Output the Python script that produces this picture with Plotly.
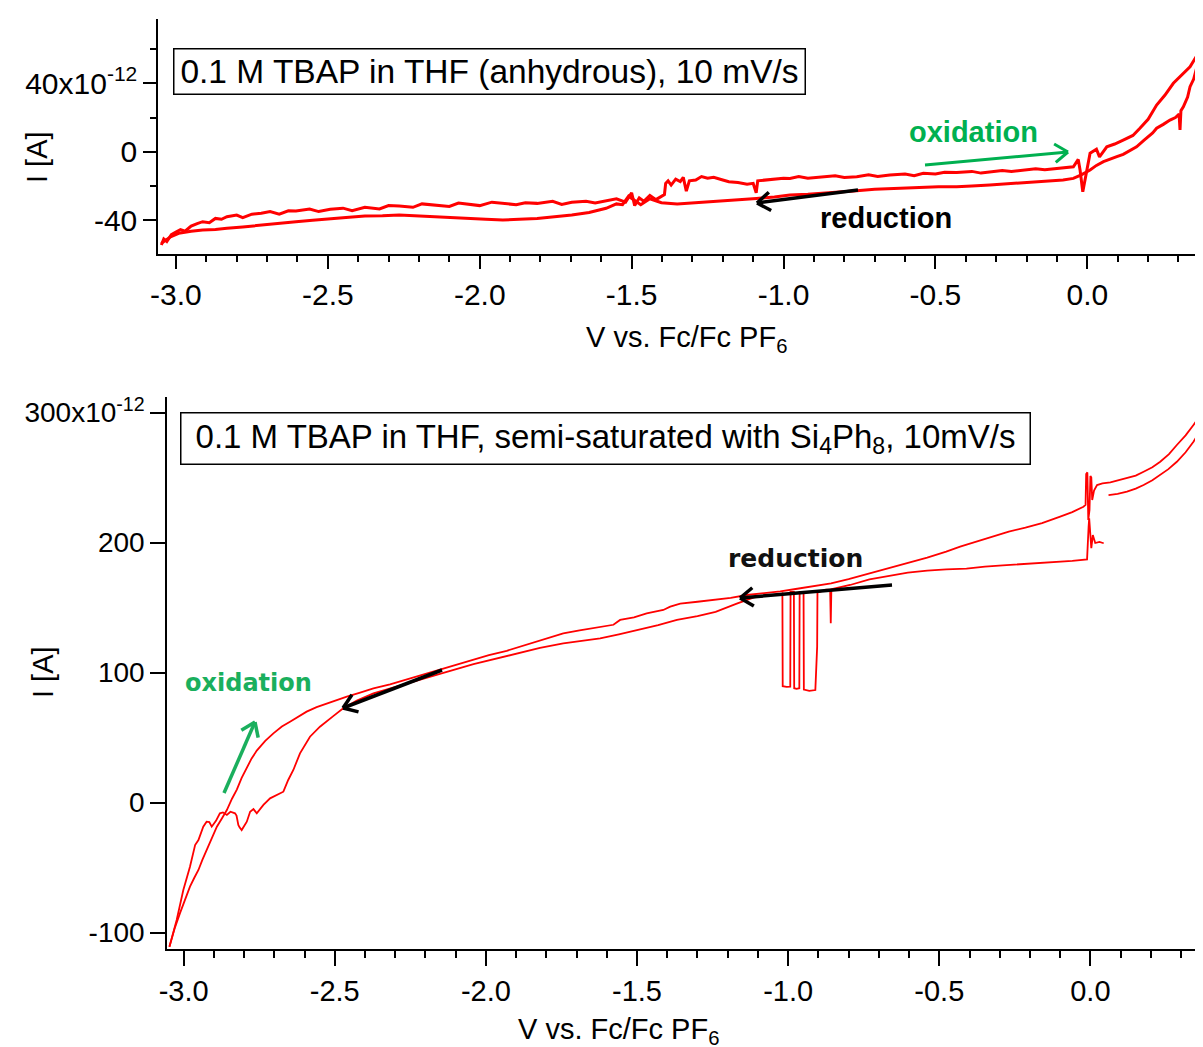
import math
import plotly.graph_objects as go

OFF = 8                       # page body margin of the html page
W, H = 1203, 1047 - OFF
FONT = "Arial, 'Liberation Sans', sans-serif"
FONT2 = "Verdana, 'DejaVu Sans', sans-serif"
RED = "#ff0000"
GREEN = "#00b050"

# ---------------- data (current in pA, i.e. x10^-12 A) ----------------
# top panel: oxidation sweep (left -> right)
top_ox_v = [-3.048, -3.040, -3.030, -3.015, -3.000, -2.985, -2.970, -2.950, -2.930, -2.912,
            -2.890, -2.870, -2.850, -2.832, -2.800, -2.780, -2.750, -2.719, -2.690, -2.660,
            -2.630, -2.605, -2.560, -2.530, -2.492, -2.450, -2.420, -2.378, -2.330, -2.300,
            -2.265, -2.220, -2.190, -2.151, -2.100, -2.070, -2.038, -2.000, -1.960, -1.924,
            -1.880, -1.850, -1.811, -1.760, -1.730, -1.697, -1.650, -1.620, -1.584, -1.550,
            -1.520, -1.500, -1.490, -1.475, -1.460, -1.440, -1.420, -1.402, -1.392, -1.388,
            -1.380, -1.370, -1.355, -1.340, -1.330, -1.320, -1.310, -1.289, -1.270, -1.250,
            -1.230, -1.200, -1.180, -1.150, -1.120, -1.100, -1.090, -1.085, -1.060, -1.030,
            -1.000, -0.979, -0.950, -0.920, -0.890, -0.869, -0.830, -0.800, -0.759, -0.720,
            -0.690, -0.650, -0.600, -0.570, -0.540, -0.500, -0.470, -0.430, -0.380, -0.350,
            -0.321, -0.280, -0.250, -0.211, -0.170, -0.140, -0.101, -0.070, -0.046, -0.030,
            -0.024, -0.015, -0.002, 0.009, 0.030, 0.040, 0.064, 0.090, 0.118, 0.150,
            0.173, 0.200, 0.228, 0.255, 0.283, 0.310, 0.338, 0.360, 0.381]
top_ox_i = [-54.5, -51.0, -52.5, -48.5, -47.0, -45.5, -46.5, -43.5, -42.0, -40.9,
            -41.5, -39.0, -39.5, -38.0, -37.0, -38.5, -36.5, -36.0, -35.0, -36.5,
            -34.5, -34.7, -33.5, -35.0, -33.7, -33.0, -34.5, -32.5, -33.5, -31.5,
            -31.8, -32.5, -30.5, -31.2, -32.0, -30.0, -30.6, -31.5, -29.5, -30.2,
            -31.0, -29.8, -30.2, -29.0, -30.8, -29.6, -29.0, -30.0, -28.6, -27.5,
            -29.5, -24.0, -31.5, -27.0, -29.0, -25.5, -28.0, -26.3, -25.0, -18.5,
            -17.0, -19.5, -16.0, -17.5, -15.0, -23.0, -17.0, -16.5, -14.5, -15.5,
            -15.0, -16.5, -17.5, -18.0, -19.0, -18.5, -24.0, -17.0, -16.5, -16.0,
            -15.5, -15.6, -14.5, -15.5, -15.0, -15.0, -14.0, -15.0, -14.6, -13.5,
            -14.5, -13.6, -13.0, -14.0, -12.6, -13.0, -12.0, -12.2, -11.5, -12.5,
            -11.7, -11.0, -11.5, -10.7, -10.0, -10.5, -9.7, -9.0, -8.8, -4.5,
            -10.7, -23.4, -10.7, -0.9, 1.5, -3.0, 2.9, 4.5, 6.8, 9.5,
            13.7, 19.0, 27.3, 33.0, 40.0, 45.0, 49.7, 56.0, 63.4]

# top panel: reduction sweep (right -> left)
top_red_v = [0.381, 0.372, 0.360, 0.350, 0.338, 0.330, 0.316, 0.308, 0.305, 0.302,
             0.290, 0.272, 0.250, 0.228, 0.215, 0.206, 0.185, 0.162, 0.140, 0.118,
             0.097, 0.075, 0.053, 0.030, 0.009, -0.020, -0.046, -0.080, -0.120, -0.160,
             -0.211, -0.260, -0.321, -0.380, -0.430, -0.490, -0.540, -0.600, -0.650, -0.700,
             -0.759, -0.810, -0.869, -0.920, -0.979, -1.030, -1.089, -1.140, -1.198, -1.250,
             -1.308, -1.350, -1.402, -1.440, -1.470, -1.493, -1.510, -1.530, -1.550, -1.584,
             -1.640, -1.697, -1.750, -1.811, -1.870, -1.924, -1.980, -2.038, -2.100, -2.151,
             -2.210, -2.265, -2.320, -2.378, -2.440, -2.492, -2.550, -2.605, -2.660, -2.719,
             -2.780, -2.832, -2.870, -2.912, -2.950, -2.991, -3.020, -3.048]
top_red_i = [63.4, 57.0, 48.0, 42.5, 38.0, 32.0, 26.3, 24.0, 12.7, 22.0,
             20.0, 18.5, 16.0, 13.7, 11.0, 9.8, 6.5, 2.9, 0.5, -1.5,
             -2.9, -4.5, -5.8, -8.0, -10.7, -13.5, -15.6, -16.5, -17.0, -17.8,
             -18.5, -19.0, -19.5, -20.0, -20.5, -20.5, -20.8, -21.0, -21.4, -22.0,
             -22.8, -23.5, -24.3, -24.8, -25.3, -26.5, -27.3, -28.0, -28.6, -29.5,
             -30.2, -30.5, -29.8, -27.5, -31.0, -28.2, -26.0, -31.0, -30.5, -33.1,
             -35.5, -37.0, -38.0, -39.0, -39.5, -39.9, -39.5, -39.0, -38.5, -38.0,
             -37.5, -37.0, -37.5, -37.6, -38.5, -39.0, -40.0, -40.9, -42.0, -42.9,
             -44.0, -44.8, -45.5, -45.8, -46.5, -47.7, -50.0, -53.6]

# bottom panel: oxidation sweep (left -> right)
bot_ox_v = [-3.047, -3.030, -3.012, -2.995, -2.979, -2.965, -2.951, -2.938, -2.924, -2.907,
            -2.890, -2.873, -2.857, -2.840, -2.824, -2.808, -2.791, -2.775, -2.758, -2.730,
            -2.703, -2.675, -2.648, -2.620, -2.593, -2.560, -2.526, -2.493, -2.460, -2.416,
            -2.372, -2.317, -2.262, -2.207, -2.152, -2.097, -2.041, -1.990, -1.931, -1.880,
            -1.821, -1.744, -1.690, -1.633, -1.600, -1.578, -1.556, -1.510, -1.468, -1.413,
            -1.390, -1.357, -1.300, -1.247, -1.190, -1.137, -1.080, -1.026, -0.970, -0.922,
            -0.858, -0.800, -0.731, -0.670, -0.604, -0.540, -0.477, -0.431, -0.380, -0.321,
            -0.270, -0.215, -0.160, -0.100, -0.060, -0.023, -0.016, -0.014, -0.010, -0.007,
            -0.003, 0.000, 0.003, 0.006, 0.012, 0.022, 0.040, 0.066, 0.095, 0.121,
            0.150, 0.176, 0.205, 0.231, 0.260, 0.286, 0.315, 0.341, 0.360, 0.373]
bot_ox_i = [-110.8, -97.0, -85.0, -74.0, -64.7, -58.0, -51.8, -44.0, -36.5, -27.5,
            -18.5, -12.0, -5.7, 3.0, 10.0, 19.0, 27.0, 34.0, 40.0, 47.5,
            53.3, 58.5, 62.2, 66.5, 70.0, 73.5, 76.4, 79.0, 81.5, 84.6,
            87.9, 91.0, 94.8, 98.5, 102.0, 106.0, 109.7, 113.5, 116.8, 120.5,
            124.5, 130.2, 132.5, 134.6, 136.0, 136.8, 140.5, 142.5, 145.6, 148.2,
            150.7, 153.0, 154.5, 155.8, 157.5, 159.7, 161.0, 162.5, 164.5, 166.1,
            168.7, 172.0, 176.4, 180.0, 184.1, 188.5, 193.0, 196.9, 200.5, 205.0,
            208.5, 211.5, 215.0, 220.0, 223.5, 227.6, 229.0, 252.8, 254.0, 217.4,
            225.0, 251.3, 250.0, 232.8, 240.0, 244.3, 245.5, 246.4, 248.0, 249.5,
            251.5, 254.5, 258.0, 262.2, 268.0, 275.1, 282.5, 290.5, 296.5, 302.0]

# bottom panel: first reduction sweep (right -> left)
bot_red1_v = [0.044, 0.030, 0.016, 0.008, 0.003, -0.002, -0.004, -0.006, -0.008, -0.011,
              -0.060, -0.100, -0.160, -0.222, -0.290, -0.349, -0.410, -0.477, -0.540, -0.604,
              -0.670, -0.731, -0.795, -0.850, -0.857, -0.859, -0.861, -0.875, -0.895, -0.903,
              -0.904, -0.908, -0.910, -0.930, -0.948, -0.949, -0.958, -0.962, -0.963, -0.972,
              -0.980, -0.981, -0.988, -0.992, -0.993, -1.005, -1.018, -1.019, -1.024, -1.060,
              -1.113, -1.170, -1.240, -1.300, -1.368, -1.430, -1.495, -1.560, -1.622, -1.690,
              -1.744, -1.821, -1.931, -2.041, -2.152, -2.262, -2.372, -2.427, -2.472, -2.505,
              -2.549, -2.582, -2.615, -2.637, -2.654, -2.670, -2.692, -2.714, -2.736, -2.758,
              -2.769, -2.780, -2.791, -2.808, -2.815, -2.819, -2.825, -2.830, -2.845, -2.857,
              -2.870, -2.880, -2.893, -2.907, -2.915, -2.924, -2.935, -2.951, -2.962, -2.979,
              -3.001, -3.023, -3.047]
bot_red1_i = [199.5, 200.5, 199.7, 205.8, 195.8, 216.0, 218.7, 212.0, 200.0, 187.1,
              186.0, 185.4, 185.0, 184.0, 182.5, 181.5, 180.0, 179.4, 178.5, 176.9,
              174.5, 171.8, 167.4, 164.5, 164.1, 138.0, 164.0, 163.8, 162.5, 161.5,
              120.0, 95.0, 86.6, 86.0, 87.0, 162.0, 162.0, 162.0, 88.0, 87.5,
              88.0, 162.0, 162.0, 162.0, 89.2, 89.0, 89.5, 161.0, 160.5, 159.5,
              157.9, 153.0, 146.8, 143.5, 140.5, 136.5, 132.8, 129.5, 126.4, 124.5,
              122.5, 119.0, 112.5, 106.5, 99.0, 91.5, 84.0, 78.5, 72.5, 66.5,
              58.4, 50.7, 37.9, 25.1, 17.4, 8.4, 5.8, 3.3, -1.8, -8.2,
              -5.0, -7.0, -14.7, -21.1, -19.0, -17.2, -10.0, -8.2, -7.0, -9.5,
              -7.5, -8.2, -14.0, -18.5, -15.0, -14.7, -18.5, -28.8, -32.6, -49.3,
              -67.2, -90.3, -110.8]

# bottom panel: second reduction sweep (right -> left, upper-right segment)
bot_red2_v = [0.373, 0.355, 0.341, 0.315, 0.286, 0.258, 0.231, 0.205, 0.176, 0.150,
              0.121, 0.090, 0.060]
bot_red2_i = [290.0, 283.0, 277.6, 269.5, 262.2, 256.5, 252.0, 248.0, 244.3, 241.5,
              239.2, 237.5, 236.6]

# tick labels
x_tickvals = [-3.0, -2.5, -2.0, -1.5, -1.0, -0.5, 0.0]
x_ticktext = ["-3.0", "-2.5", "-2.0", "-1.5", "-1.0", "-0.5", "0.0"]
x_minor = [round(-3.0 + 0.1 * k, 1) for k in range(34)]
top_y_tickvals = [-40, 0, 40]
top_y_ticktext = ["-40", "0", "40x10<sup>-12</sup>"]
top_y_minor = [-40, -20, 0, 20, 40, 60]
bot_y_tickvals = [-100, 0, 100, 200, 300]
bot_y_ticktext = ["-100", "0", "100", "200", "300x10<sup>-12</sup>"]

# ---------------- figure ----------------
fig = go.Figure()
fig.add_trace(go.Scatter(x=top_ox_v, y=top_ox_i, mode="lines", line=dict(color=RED, width=3),
                         xaxis="x", yaxis="y", showlegend=False, hoverinfo="skip"))
fig.add_trace(go.Scatter(x=top_red_v, y=top_red_i, mode="lines", line=dict(color=RED, width=3),
                         xaxis="x", yaxis="y", showlegend=False, hoverinfo="skip"))
for xs, ys in [(bot_ox_v, bot_ox_i), (bot_red1_v, bot_red1_i), (bot_red2_v, bot_red2_i)]:
    fig.add_trace(go.Scatter(x=xs, y=ys, mode="lines", line=dict(color=RED, width=1.8),
                             xaxis="x2", yaxis="y2", showlegend=False, hoverinfo="skip"))


def px(x):
    return (x - OFF) / W


def py(y):
    return 1 - (y - OFF) / H


def xaxis_style(domain, rng, anchor, fsize, tlen, mlen):
    return dict(domain=domain, range=rng, anchor=anchor, showline=True, linecolor="black",
                linewidth=1.5, ticks="outside", ticklen=tlen, tickwidth=1.5, tickcolor="black",
                tickmode="array", tickvals=x_tickvals, ticktext=x_ticktext,
                tickfont=dict(size=fsize, color="black", family=FONT),
                showgrid=False, zeroline=False, automargin=False,
                minor=dict(tickmode="array", tickvals=x_minor, ticks="outside",
                           ticklen=mlen, tickwidth=1.5, tickcolor="black", showgrid=False))


fig.update_layout(
    width=W, height=H,
    margin=dict(l=0, r=0, t=0, b=0),
    paper_bgcolor="white", plot_bgcolor="white",
    font=dict(family=FONT, color="black"),
    xaxis=xaxis_style([px(158), 1.0], [-3.059, 0.407], "y", 30, 13, 6),
    yaxis=dict(domain=[py(254), py(19)], range=[-59.8, 77.6], anchor="x", showline=True,
               linecolor="black", linewidth=1.5, ticks="outside", ticklen=13, tickwidth=1.5,
               tickcolor="black", tickmode="array", tickvals=top_y_tickvals,
               ticktext=top_y_ticktext, tickfont=dict(size=30, color="black", family=FONT),
               showgrid=False, zeroline=False, automargin=False,
               minor=dict(tickmode="array", tickvals=top_y_minor, ticks="outside", ticklen=6,
                          tickwidth=1.5, tickcolor="black", showgrid=False)),
    xaxis2=xaxis_style([px(167), 1.0], [-3.055, 0.399], "y2", 29, 15, 7),
    yaxis2=dict(domain=[py(949), py(397)], range=[-112.6, 312.0], anchor="x2", showline=True,
                linecolor="black", linewidth=1.5, ticks="outside", ticklen=15, tickwidth=1.5,
                tickcolor="black", tickmode="array", tickvals=bot_y_tickvals,
                ticktext=bot_y_ticktext, tickfont=dict(size=28, color="black", family=FONT),
                showgrid=False, zeroline=False, automargin=False),
)

ann = []


def label(xc, yc, text, size, family=FONT, color="black", **kw):
    d = dict(x=px(xc), y=py(yc), xref="paper", yref="paper", showarrow=False, text=text,
             font=dict(size=size, family=family, color=color), xanchor="center",
             yanchor="middle")
    d.update(kw)
    ann.append(d)


# boxes
label(489.5, 72, "0.1 M TBAP in THF (anhydrous), 10 mV/s", 33.5,
      bordercolor="black", borderwidth=1.5, borderpad=2, bgcolor="white", width=626, height=40)
label(605, 438, "0.1 M TBAP in THF, semi-saturated with Si<sub>4</sub>Ph<sub>8</sub>, 10mV/s", 33,
      bordercolor="black", borderwidth=1.5, borderpad=2, bgcolor="white", width=844, height=46)
# axis titles
label(686, 339, "V vs. Fc/Fc PF<sub>6</sub>", 29)
label(618, 1031, "V vs. Fc/Fc PF<sub>6</sub>", 29)
label(37, 157, "I [A]", 29, textangle=-90)
label(43, 672, "I [A]", 29, textangle=-90)
# direction labels
label(973, 132, "<b>oxidation</b>", 29, color=GREEN)
label(886, 218, "<b>reduction</b>", 29)
label(795, 558, "<b>reduction</b>", 25, family=FONT2, color="#111111")
label(248, 683, "<b>oxidation</b>", 24, family=FONT2, color="#1aaf5d")

shapes = []


def arrow(x0, y0, x1, y1, color, width, head=16, ang=35):
    shapes.append(dict(type="line", xref="paper", yref="paper", x0=px(x0), y0=py(y0),
                       x1=px(x1), y1=py(y1), line=dict(color=color, width=width)))
    dx, dy = x0 - x1, y0 - y1
    L = math.hypot(dx, dy)
    dx, dy = dx / L, dy / L
    for a in (ang, -ang):
        r = math.radians(a)
        hx = dx * math.cos(r) - dy * math.sin(r)
        hy = dx * math.sin(r) + dy * math.cos(r)
        shapes.append(dict(type="line", xref="paper", yref="paper", x0=px(x1), y0=py(y1),
                           x1=px(x1 + head * hx), y1=py(y1 + head * hy),
                           line=dict(color=color, width=width)))


arrow(925, 165, 1068, 152, GREEN, 3)
arrow(858, 190, 757, 203, "black", 3.5)
arrow(892, 585, 740, 598, "black", 3.5)
arrow(224, 793, 255, 722, "#1aaf5d", 3.5)
arrow(442, 670, 343, 708, "black", 3.5)

fig.update_layout(annotations=ann, shapes=shapes)
fig.write_html("out.html")
